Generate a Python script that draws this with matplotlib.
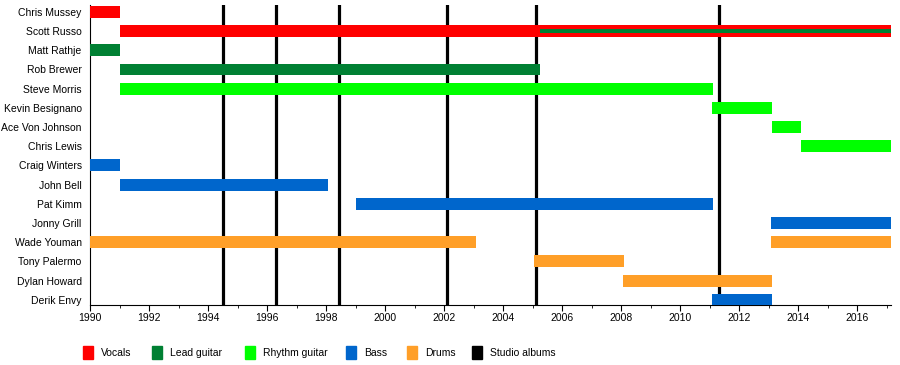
import matplotlib
matplotlib.use("Agg")
import matplotlib.pyplot as plt
from matplotlib.patches import Rectangle
from matplotlib.ticker import MultipleLocator

plt.rcParams['font.family'] = ['Liberation Sans', 'DejaVu Sans']

# band members, top to bottom
members = ["Chris Mussey", "Scott Russo", "Matt Rathje", "Rob Brewer",
           "Steve Morris", "Kevin Besignano", "Ace Von Johnson", "Chris Lewis",
           "Craig Winters", "John Bell", "Pat Kimm", "Jonny Grill",
           "Wade Youman", "Tony Palermo", "Dylan Howard", "Derik Envy"]

END = 2017.15

# (member, start, end, role)
spans = [
    ("Chris Mussey", 1990.0, 1991.0, "Vocals"),
    ("Scott Russo", 1991.0, END, "Vocals"),
    ("Matt Rathje", 1990.0, 1991.0, "Lead guitar"),
    ("Rob Brewer", 1991.0, 2005.25, "Lead guitar"),
    ("Steve Morris", 1991.0, 2011.1, "Rhythm guitar"),
    ("Kevin Besignano", 2011.08, 2013.1, "Rhythm guitar"),
    ("Ace Von Johnson", 2013.1, 2014.1, "Rhythm guitar"),
    ("Chris Lewis", 2014.1, END, "Rhythm guitar"),
    ("Craig Winters", 1990.0, 1991.0, "Bass"),
    ("John Bell", 1991.0, 1998.07, "Bass"),
    ("Pat Kimm", 1999.0, 2011.1, "Bass"),
    ("Jonny Grill", 2013.08, END, "Bass"),
    ("Wade Youman", 1990.0, 2003.08, "Drums"),
    ("Wade Youman", 2013.08, END, "Drums"),
    ("Tony Palermo", 2005.05, 2008.1, "Drums"),
    ("Dylan Howard", 2008.07, 2013.1, "Drums"),
    ("Derik Envy", 2011.08, 2013.1, "Bass"),
]
# secondary roles drawn as a thin stripe
stripes = [("Scott Russo", 2005.25, END, "Lead guitar")]

albums = [1994.5, 1996.3, 1998.44, 2002.1, 2005.12, 2011.32]

roles = ["Vocals", "Lead guitar", "Rhythm guitar", "Bass", "Drums", "Studio albums"]
colors = {"Vocals": "#ff0000", "Lead guitar": "#008033", "Rhythm guitar": "#00ff00",
          "Bass": "#0066cc", "Drums": "#ff9f28", "Studio albums": "#000000"}

fig = plt.figure(figsize=(9, 3.65), dpi=100)
ax = fig.add_axes([0.1, 0.1644, 0.89, 0.822])

for name, s, e, role in spans:
    ax.barh(members.index(name), e - s, left=s, height=0.62,
            color=colors[role], zorder=3)
for name, s, e, role in stripes:
    ax.barh(members.index(name), e - s, left=s, height=0.2,
            color=colors[role], zorder=4)
for a in albums:
    ax.axvline(a, color='black', lw=2.3, zorder=2)

ax.set_xlim(1990, END)
ax.set_ylim(15.27, -0.36)
ax.set_yticks(range(len(members)))
ax.set_yticklabels(members, fontsize=7.5)
ax.tick_params(axis='y', length=0, pad=6)
ax.xaxis.set_major_locator(MultipleLocator(2))
ax.xaxis.set_minor_locator(MultipleLocator(1))
ax.tick_params(axis='x', which='major', length=4, labelsize=7.5, pad=2)
ax.tick_params(axis='x', which='minor', length=2.5)
for side in ['top', 'right']:
    ax.spines[side].set_visible(False)
ax.spines['left'].set_linewidth(0.8)
ax.spines['bottom'].set_linewidth(0.8)

# legend along the bottom
leg_x = [83, 152, 245, 346, 407, 472]
for r, x in zip(roles, leg_x):
    fig.patches.append(Rectangle((x / 900, 1 - 359 / 365), 10 / 900, 13 / 365,
                                 transform=fig.transFigure, color=colors[r]))
    fig.text((x + 18) / 900, 1 - 353 / 365, r, fontsize=7.5, va='center')

fig.savefig('out.png', dpi=100)
